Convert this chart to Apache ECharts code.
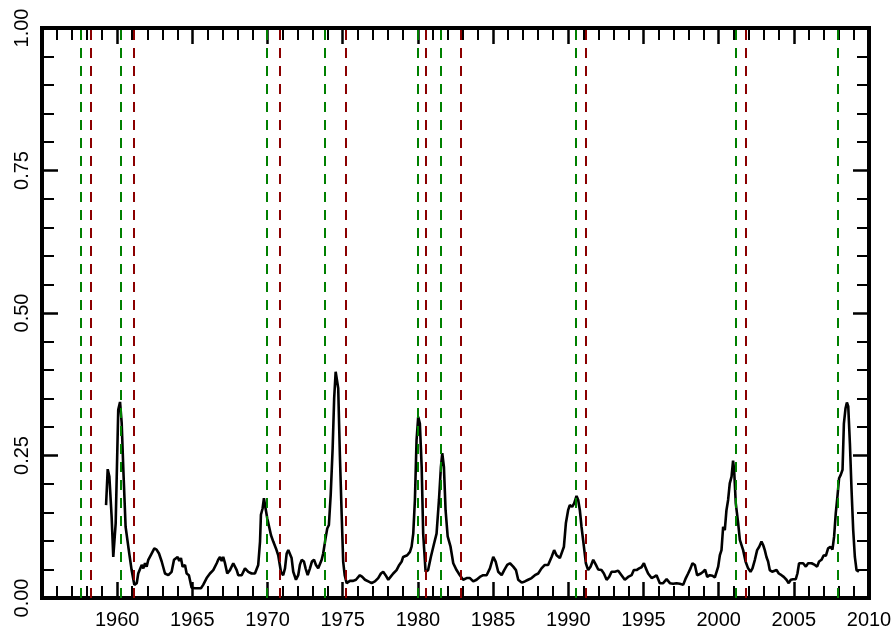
<!DOCTYPE html>
<html>
<head>
<meta charset="utf-8">
<script src="https://cdn.jsdelivr.net/npm/echarts@6/dist/echarts.min.js"></script>
<style>
html,body{margin:0;padding:0;background:#fff;}
#chart{width:896px;height:636px;}
</style>
</head>
<body>
<div id="chart"></div>
<script>
// Time (decimal years) and probability values of the black line
var years = [1959.26,1959.37,1959.48,1959.63,1959.74,1959.9,1960.07,1960.19,1960.3,1960.41,1960.56,1960.74,1960.96,1961.14,1961.3,1961.4,1961.52,1961.63,1961.74,1961.85,1961.96,1962.07,1962.18,1962.29,1962.47,1962.62,1962.78,1962.96,1963.18,1963.4,1963.62,1963.78,1963.89,1964.02,1964.13,1964.24,1964.35,1964.51,1964.62,1964.77,1964.95,1965.17,1965.57,1965.72,1965.95,1966.17,1966.28,1966.39,1966.5,1966.62,1966.72,1966.84,1966.95,1967.05,1967.17,1967.32,1967.5,1967.61,1967.72,1967.83,1967.95,1968.05,1968.28,1968.5,1968.72,1968.94,1969.16,1969.28,1969.38,1969.5,1969.56,1969.67,1969.76,1969.87,1969.98,1970.09,1970.23,1970.38,1970.56,1970.71,1970.89,1971.04,1971.16,1971.27,1971.38,1971.49,1971.6,1971.71,1971.89,1972.04,1972.15,1972.27,1972.42,1972.53,1972.67,1972.82,1972.95,1973.09,1973.22,1973.37,1973.48,1973.6,1973.7,1973.86,1973.97,1974.08,1974.2,1974.33,1974.43,1974.53,1974.61,1974.7,1974.81,1974.93,1975.03,1975.13,1975.26,1975.48,1975.7,1975.88,1975.99,1976.14,1976.3,1976.48,1976.7,1976.92,1977.14,1977.36,1977.54,1977.69,1977.85,1978.03,1978.18,1978.36,1978.58,1978.76,1978.92,1979.02,1979.14,1979.29,1979.47,1979.58,1979.69,1979.8,1979.91,1980.02,1980.13,1980.25,1980.35,1980.51,1980.68,1980.86,1981.08,1981.24,1981.4,1981.53,1981.62,1981.73,1981.84,1981.98,1982.17,1982.35,1982.57,1982.79,1983.01,1983.24,1983.46,1983.68,1983.9,1984.12,1984.34,1984.57,1984.79,1985.01,1985.17,1985.34,1985.57,1985.74,1985.94,1986.12,1986.23,1986.34,1986.52,1986.67,1986.9,1987.11,1987.33,1987.56,1987.78,1988.0,1988.22,1988.44,1988.66,1988.89,1989.06,1989.22,1989.44,1989.55,1989.71,1989.84,1989.99,1990.1,1990.26,1990.39,1990.55,1990.66,1990.77,1990.88,1991.04,1991.17,1991.32,1991.48,1991.66,1991.84,1991.99,1992.21,1992.37,1992.55,1992.72,1992.88,1993.1,1993.32,1993.54,1993.76,1993.98,1994.21,1994.36,1994.54,1994.71,1994.87,1995.03,1995.16,1995.31,1995.54,1995.71,1995.87,1996.09,1996.31,1996.54,1996.76,1996.97,1997.2,1997.42,1997.64,1997.82,1997.97,1998.13,1998.26,1998.42,1998.57,1998.7,1998.82,1998.97,1999.1,1999.24,1999.41,1999.59,1999.75,1999.86,1999.97,2000.08,2000.19,2000.3,2000.41,2000.52,2000.63,2000.74,2000.86,2000.96,2001.03,2001.14,2001.3,2001.41,2001.52,2001.63,2001.79,2001.96,2002.12,2002.25,2002.41,2002.56,2002.7,2002.85,2002.96,2003.07,2003.18,2003.29,2003.4,2003.56,2003.69,2003.85,2004.0,2004.18,2004.33,2004.51,2004.66,2004.8,2004.95,2005.13,2005.24,2005.35,2005.46,2005.62,2005.8,2005.95,2006.18,2006.4,2006.55,2006.68,2006.84,2006.99,2007.13,2007.28,2007.44,2007.57,2007.68,2007.79,2007.9,2008.01,2008.12,2008.24,2008.33,2008.44,2008.53,2008.62,2008.73,2008.84,2008.95,2009.06,2009.17,2009.33];
var values = [0.163,0.226,0.213,0.143,0.072,0.131,0.33,0.344,0.307,0.225,0.125,0.09,0.049,0.023,0.026,0.043,0.04,0.058,0.052,0.061,0.055,0.067,0.064,0.078,0.087,0.085,0.078,0.064,0.043,0.04,0.046,0.067,0.07,0.072,0.065,0.07,0.055,0.058,0.043,0.04,0.018,0.017,0.017,0.023,0.035,0.043,0.04,0.049,0.046,0.061,0.067,0.072,0.065,0.072,0.061,0.043,0.049,0.046,0.061,0.058,0.049,0.04,0.04,0.052,0.046,0.043,0.043,0.046,0.058,0.099,0.146,0.157,0.175,0.157,0.14,0.14,0.11,0.099,0.087,0.075,0.046,0.04,0.052,0.078,0.084,0.087,0.07,0.046,0.032,0.04,0.058,0.067,0.064,0.052,0.04,0.052,0.064,0.067,0.058,0.052,0.049,0.067,0.078,0.105,0.122,0.128,0.181,0.263,0.35,0.397,0.4,0.368,0.251,0.146,0.064,0.04,0.026,0.03,0.03,0.032,0.032,0.04,0.037,0.032,0.029,0.026,0.029,0.035,0.043,0.046,0.04,0.032,0.037,0.043,0.049,0.058,0.064,0.072,0.07,0.075,0.081,0.09,0.113,0.172,0.277,0.318,0.306,0.23,0.113,0.046,0.049,0.072,0.096,0.113,0.172,0.23,0.254,0.23,0.154,0.108,0.09,0.061,0.049,0.04,0.032,0.035,0.035,0.029,0.032,0.037,0.04,0.04,0.052,0.072,0.064,0.046,0.04,0.049,0.058,0.061,0.064,0.055,0.049,0.032,0.027,0.029,0.032,0.035,0.04,0.043,0.052,0.058,0.058,0.072,0.084,0.075,0.07,0.067,0.09,0.131,0.154,0.163,0.16,0.166,0.179,0.172,0.154,0.125,0.09,0.061,0.049,0.055,0.067,0.058,0.05,0.049,0.043,0.032,0.037,0.046,0.046,0.048,0.04,0.032,0.037,0.04,0.049,0.049,0.052,0.054,0.061,0.052,0.043,0.035,0.037,0.04,0.026,0.026,0.033,0.026,0.025,0.026,0.025,0.023,0.035,0.043,0.052,0.061,0.058,0.04,0.037,0.043,0.046,0.05,0.037,0.04,0.039,0.036,0.035,0.055,0.075,0.084,0.125,0.119,0.154,0.172,0.201,0.213,0.241,0.225,0.166,0.131,0.102,0.099,0.084,0.064,0.052,0.046,0.052,0.067,0.084,0.09,0.099,0.093,0.084,0.072,0.064,0.049,0.046,0.044,0.049,0.043,0.04,0.037,0.032,0.026,0.032,0.033,0.033,0.043,0.061,0.064,0.061,0.055,0.061,0.061,0.058,0.055,0.064,0.067,0.075,0.074,0.087,0.09,0.085,0.108,0.149,0.178,0.21,0.216,0.225,0.306,0.333,0.343,0.336,0.271,0.189,0.119,0.072,0.049,0.046];

// Vertical dashed markers (green = peaks, red = troughs)
var peaks = [1957.58, 1960.25, 1969.92, 1973.83, 1980.0, 1981.5, 1990.5, 2001.17, 2007.92];
var troughs = [1958.25, 1961.08, 1970.83, 1975.17, 1980.5, 1982.83, 1991.17, 2001.83];

// Tick labels
var xTickLabels = ['1960','1965','1970','1975','1980','1985','1990','1995','2000','2005','2010'];
var yTickLabels = ['0.00','0.25','0.50','0.75','1.00'];

var lineData = years.map(function (y, i) { return [y, values[i]]; });

var FONT = 'Liberation Sans, Arial, Helvetica, sans-serif';

function tickParts() {
  return {
    axisLine: { show: true, onZero: false, lineStyle: { color: '#000', width: 4, cap: 'square' } },
    splitLine: { show: false },
    axisTick: { show: true, inside: true, length: 16, lineStyle: { color: '#000', width: 2.5 } },
    minorTick: { show: true, splitNumber: 5, length: 12, lineStyle: { color: '#000', width: 2 } },
    minorSplitLine: { show: false }
  };
}
function xAxisCfg(pos, showLabel) {
  var c = tickParts();
  c.type = 'value'; c.position = pos; c.min = 1955; c.max = 2010; c.interval = 5;
  c.axisLabel = {
    show: showLabel, showMinLabel: false, margin: 12,
    color: '#000', fontSize: 20, fontFamily: FONT,
    formatter: function (v) {
      var s = String(Math.round(v));
      return xTickLabels.indexOf(s) >= 0 ? s : '';
    }
  };
  return c;
}
function yAxisCfg(pos, showLabel) {
  var c = tickParts();
  c.type = 'value'; c.position = pos; c.min = 0; c.max = 1; c.interval = 0.25;
  c.axisLabel = {
    show: showLabel, rotate: 90, margin: 10,
    color: '#000', fontSize: 20, fontFamily: FONT,
    formatter: function (v) {
      var s = v.toFixed(2);
      return yTickLabels.indexOf(s) >= 0 ? s : '';
    }
  };
  return c;
}

var markStyle = function (color) {
  return { color: color, width: 2, type: [10, 8] };
};

var chart = echarts.init(document.getElementById('chart'), null, { renderer: 'canvas' });
chart.setOption({
  animation: false,
  backgroundColor: '#fff',
  grid: { left: 42, right: 27, top: 28, bottom: 38, show: false },
  xAxis: [xAxisCfg('bottom', true), xAxisCfg('top', false)],
  yAxis: [yAxisCfg('left', true), yAxisCfg('right', false)],
  series: [
    {
      type: 'line', xAxisIndex: 0, yAxisIndex: 0,
      data: lineData, showSymbol: false, symbol: 'none', smooth: false,
      lineStyle: { color: '#000', width: 2.6 }, z: 2
    },
    {
      type: 'line', xAxisIndex: 0, yAxisIndex: 0, data: [], z: 3,
      markLine: {
        silent: true, symbol: ['none', 'none'], label: { show: false },
        lineStyle: markStyle('#008000'),
        data: peaks.map(function (p) { return { xAxis: p }; })
      }
    },
    {
      type: 'line', xAxisIndex: 0, yAxisIndex: 0, data: [], z: 3,
      markLine: {
        silent: true, symbol: ['none', 'none'], label: { show: false },
        lineStyle: markStyle('#8B0000'),
        data: troughs.map(function (p) { return { xAxis: p }; })
      }
    }
  ]
});
</script>
</body>
</html>
